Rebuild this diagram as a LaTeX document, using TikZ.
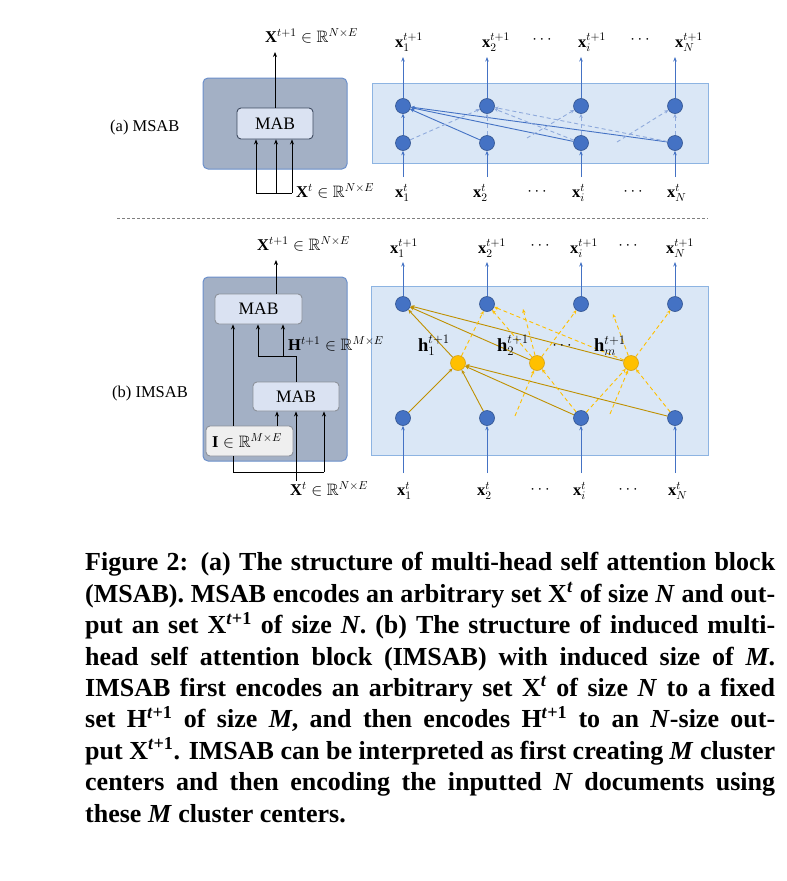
\RequirePackage{fix-cm}
\documentclass[tikz,border=0pt]{standalone}
\usepackage{amssymb}
\usepackage{fontspec}
\setmainfont{Liberation Serif}
\usetikzlibrary{arrows.meta}
\definecolor{darkboxc}{HTML}{A3B0C5}
\definecolor{darkedgec}{HTML}{6B8FCB}
\definecolor{mabfillc}{HTML}{DAE2F2}
\definecolor{mabedgeA}{HTML}{3E4A60}
\definecolor{mabedgeB}{HTML}{8C919A}
\definecolor{ifillc}{HTML}{EFEFEF}
\definecolor{lightfillc}{HTML}{DAE7F6}
\definecolor{lightedgec}{HTML}{8DB4E2}
\definecolor{nodeblue}{HTML}{4472C4}
\definecolor{nodeblueedge}{HTML}{2F528F}
\definecolor{dashblue}{HTML}{8FAADC}
\definecolor{goldc}{HTML}{FFC000}
\definecolor{goldedgec}{HTML}{D4A017}
\definecolor{darkgoldc}{HTML}{BF9000}
\begin{document}
\begin{tikzpicture}[x=1pt,y=-1pt,
  every node/.append style={font=\fontsize{16.5}{19}\selectfont},
  darkbox/.style={draw=darkedgec, fill=darkboxc, line width=1pt, rounded corners=5pt, inner sep=0pt},
  mabboxA/.style={draw=mabedgeA, fill=mabfillc, line width=0.9pt, rounded corners=4pt, inner sep=0pt, font=\fontsize{17.5}{19}\selectfont},
  mabboxB/.style={draw=mabedgeB, fill=mabfillc, line width=0.9pt, rounded corners=4pt, inner sep=0pt, font=\fontsize{17.5}{19}\selectfont},
  ibox/.style={draw=mabedgeB, fill=ifillc, line width=0.9pt, rounded corners=4pt, inner sep=0pt},
  lightbox/.style={draw=lightedgec, fill=lightfillc, line width=1pt, inner sep=0pt},
  bdot/.style={circle, fill=nodeblue, draw=nodeblueedge, line width=0.6pt, minimum size=15pt, inner sep=0pt},
  ydot/.style={circle, fill=goldc, draw=goldedgec, line width=0.6pt, minimum size=15pt, inner sep=0pt},
  lbl/.style={inner sep=0pt, anchor=base west},
  hlbls/.style={inner sep=0pt, anchor=base west, font=\fontsize{18.5}{20}\selectfont},
  dotslbl/.style={inner sep=0pt},
  blk/.style={draw=black, line width=0.8pt},
  blkarr/.style={draw=black, line width=0.8pt, -{Stealth[length=5pt,width=4pt]}},
  barr/.style={draw=nodeblue, line width=1pt, -{Stealth[length=4.5pt,width=3.5pt]}},
  bsolid/.style={draw=nodeblue, line width=0.9pt, -{Stealth[length=4pt,width=3.5pt]}},
  bdashed/.style={draw=dashblue, line width=0.9pt, dash pattern=on 4pt off 3pt, -{Stealth[length=4pt,width=3.5pt]}},
  gsolid/.style={draw=darkgoldc, line width=0.9pt, -{Stealth[length=4pt,width=3.5pt]}},
  gdashed/.style={draw=goldc, line width=0.9pt, dash pattern=on 4pt off 3pt, -{Stealth[length=4pt,width=3.5pt]}},
  sepline/.style={draw=gray, line width=0.7pt, dash pattern=on 3pt off 2pt}
]
\useasboundingbox (0,0) rectangle (787,881);

% background panels
\node[lightbox, minimum width=336pt, minimum height=80pt] (netA) at (540,123) {};
\node[lightbox, minimum width=337pt, minimum height=169pt] (netB) at (539.5,370.5) {};

% ================= (a) MSAB =================
\node[darkbox, minimum width=144pt, minimum height=91pt] (boxA) at (275,123.5) {};
\node[mabboxA, minimum width=76pt, minimum height=31pt] (mabA) at (275,123.5) {MAB};
\node[lbl] (lblA) at (110,131) {(a) MSAB};
\node[lbl] (outAlbl) at (265,42) {$\mathbf{X}^{t+1}\in\mathbb{R}^{N\times E}$};
\node[lbl] (inAlbl) at (296,197) {$\mathbf{X}^{t}\in\mathbb{R}^{N\times E}$};
\coordinate (oA) at (275,52);
\draw[blkarr] (mabA.north) -- (oA);
\coordinate (iA1) at (256,193);
\coordinate (iA2) at (276,193);
\coordinate (iA3) at (292,193);
\draw[blk] (iA1) -- (iA3);
\draw[blkarr] (iA1) -- (iA1 |- mabA.south);
\draw[blkarr] (iA2) -- (iA2 |- mabA.south);
\draw[blkarr] (iA3) -- (iA3 |- mabA.south);

\foreach \n/\x in {1/403,2/487,3/581,4/675}{
  \node[bdot] (ta\n) at (\x,106) {};
  \node[bdot] (ba\n) at (\x,143) {};
  \coordinate (oa\n) at (\x,57);
  \coordinate (ia\n) at (\x,177);
  \draw[barr] (ta\n) -- (oa\n);
  \draw[barr] (ia\n) -- (ba\n);
}
\foreach \n in {1,...,4}{ \draw[bsolid] (ba\n) -- (ta1); }
\foreach \n in {1,...,4}{ \draw[bdashed] (ba\n) -- (ta2); }
\coordinate (pa3) at (527,138);
\coordinate (pa4) at (617,142);
\draw[bdashed] (pa3) -- (ta3);
\draw[bdashed] (ba3) -- (ta3);
\draw[bdashed] (pa4) -- (ta4);
\draw[bdashed] (ba4) -- (ta4);

\node[lbl] (xa1o) at (395,47) {$\mathbf{x}_1^{t+1}$};
\node[lbl] (xa2o) at (482,47) {$\mathbf{x}_2^{t+1}$};
\node[lbl] (xaio) at (578,47) {$\mathbf{x}_i^{t+1}$};
\node[lbl] (xaNo) at (675,47) {$\mathbf{x}_N^{t+1}$};
\node[dotslbl] (da1) at (542,40) {$\cdots$};
\node[dotslbl] (da2) at (640,40) {$\cdots$};
\node[lbl] (xa1i) at (395,197) {$\mathbf{x}_1^{t}$};
\node[lbl] (xa2i) at (473,197) {$\mathbf{x}_2^{t}$};
\node[lbl] (xaii) at (572,197) {$\mathbf{x}_i^{t}$};
\node[lbl] (xaNi) at (667,197) {$\mathbf{x}_N^{t}$};
\node[dotslbl] (da3) at (537,192) {$\cdots$};
\node[dotslbl] (da4) at (633,192) {$\cdots$};

% separator
\coordinate (sepL) at (117,218);
\coordinate (sepR) at (708,218);
\draw[sepline] (sepL) -- (sepR);

% ================= (b) IMSAB =================
\node[darkbox, minimum width=144pt, minimum height=184pt] (boxB) at (275,369) {};
\node[mabboxB, minimum width=87pt, minimum height=30pt] (mabB1) at (258.5,309) {MAB};
\node[mabboxB, minimum width=86pt, minimum height=29pt] (mabB2) at (296,396.5) {MAB};
\node[ibox, minimum width=87pt, minimum height=30pt] (iboxB) at (249.5,441) {};
\node[lbl] (ilbl) at (212,447) {$\mathbf{I}\in\mathbb{R}^{M\times E}$};
\node[lbl] (lblB) at (112,397) {(b) IMSAB};
\node[lbl] (outBlbl) at (257,250) {$\mathbf{X}^{t+1}\in\mathbb{R}^{N\times E}$};
\node[lbl] (hlbl) at (288,350) {$\mathbf{H}^{t+1}\in\mathbb{R}^{M\times E}$};
\node[lbl] (inBlbl) at (290,495) {$\mathbf{X}^{t}\in\mathbb{R}^{N\times E}$};
\coordinate (oB) at (276,260);
\draw[blkarr] (oB |- mabB1.north) -- (oB);
\coordinate (hj) at (296,356);
\coordinate (hL) at (258,356);
\coordinate (hR) at (283,356);
\draw[blk] (hj |- mabB2.north) -- (hj) -- (hL);
\draw[blkarr] (hL) -- (hL |- mabB1.south);
\draw[blkarr] (hR) -- (hR |- mabB1.south);
\coordinate (iL) at (233,472);
\coordinate (iR) at (324,472);
\draw[blkarr] (iL |- iboxB.north) -- (iL |- mabB1.south);
\draw[blk] (iL |- iboxB.south) -- (iL) -- (iR);
\draw[blkarr] (iR) -- (iR |- mabB2.south);
\coordinate (im) at (277,426);
\draw[blkarr] (im) -- (im |- mabB2.south);
\coordinate (ix) at (296,481);
\draw[blkarr] (ix) -- (ix |- mabB2.south);

\foreach \n/\x in {1/403,2/487,3/581,4/675}{
  \node[bdot] (tb\n) at (\x,304) {};
  \node[bdot] (bb\n) at (\x,418) {};
  \coordinate (ob\n) at (\x,262);
  \coordinate (ib\n) at (\x,473);
  \draw[barr] (tb\n) -- (ob\n);
  \draw[barr] (ib\n) -- (bb\n);
}
\node[ydot] (hy1) at (458,363) {};
\node[ydot] (hy2) at (537,363) {};
\node[ydot] (hy3) at (631,363) {};
% solid gold
\foreach \n in {1,...,4}{ \draw[gsolid] (bb\n) -- (hy1); }
\foreach \n in {1,...,3}{ \draw[gsolid] (hy\n) -- (tb1); }
% dashed gold, upper layer
\draw[gdashed] (hy1) -- (tb2);
\draw[gdashed] (hy2) -- (tb2);
\draw[gdashed] (hy3) -- (tb2);
\draw[gdashed] (hy2) -- (tb3);
\draw[gdashed] (hy3) -- (tb4);
\coordinate (pu2) at (523,309);
\coordinate (pu3) at (613,314);
\draw[gdashed] (hy2) -- (pu2);
\draw[gdashed] (hy3) -- (pu3);
% dashed gold, lower layer
\coordinate (pl2) at (515,416);
\coordinate (pl3) at (610,414);
\draw[gdashed] (pl2) -- (hy2);
\draw[gdashed] (bb3) -- (hy2);
\draw[gdashed] (bb3) -- (hy3);
\draw[gdashed] (pl3) -- (hy3);
\draw[gdashed] (bb4) -- (hy3);

\node[hlbls] (h1lbl) at (418,351) {$\mathbf{h}_1^{t+1}$};
\node[hlbls] (h2lbl) at (497,351) {$\mathbf{h}_2^{t+1}$};
\node[dotslbl] (dh) at (562,346) {$\cdots$};
\node[hlbls] (hmlbl) at (594,351) {$\mathbf{h}_m^{t+1}$};

\node[lbl] (xb1o) at (390,253) {$\mathbf{x}_1^{t+1}$};
\node[lbl] (xb2o) at (478,253) {$\mathbf{x}_2^{t+1}$};
\node[lbl] (xbio) at (570,253) {$\mathbf{x}_i^{t+1}$};
\node[lbl] (xbNo) at (666,253) {$\mathbf{x}_N^{t+1}$};
\node[dotslbl] (db1) at (540,246) {$\cdots$};
\node[dotslbl] (db2) at (628,246) {$\cdots$};
\node[lbl] (xb1i) at (397,495) {$\mathbf{x}_1^{t}$};
\node[lbl] (xb2i) at (477,495) {$\mathbf{x}_2^{t}$};
\node[lbl] (xbii) at (573,495) {$\mathbf{x}_i^{t}$};
\node[lbl] (xbNi) at (668,495) {$\mathbf{x}_N^{t}$};
\node[dotslbl] (db3) at (540,490) {$\cdots$};
\node[dotslbl] (db4) at (628,490) {$\cdots$};

% ================= caption =================
\node[anchor=base west, inner sep=0pt, align=left,
      font=\fontsize{26}{31.4}\selectfont\bfseries] (cap) at (85,822) {%
\makebox[690pt][s]{Figure 2: (a) The structure of multi-head self attention block}\\
\makebox[690pt][s]{(MSAB). MSAB encodes an arbitrary set X\textsuperscript{\textit{t}} of size \textit{N} and out-}\\
\makebox[690pt][s]{put an set X\textsuperscript{\textit{t}+1} of size \textit{N}. (b) The structure of induced multi-}\\
\makebox[690pt][s]{head self attention block (IMSAB) with induced size of \textit{M}.}\\
\makebox[690pt][s]{IMSAB first encodes an arbitrary set X\textsuperscript{\textit{t}} of size \textit{N} to a fixed}\\
\makebox[690pt][s]{set H\textsuperscript{\textit{t}+1} of size \textit{M}, and then encodes H\textsuperscript{\textit{t}+1} to an \textit{N}-size out-}\\
\makebox[690pt][s]{put X\textsuperscript{\textit{t}+1}. IMSAB can be interpreted as first creating \textit{M} cluster}\\
\makebox[690pt][s]{centers and then encoding the inputted \textit{N} documents using}\\
these \textit{M} cluster centers.};
\end{tikzpicture}
\end{document}
